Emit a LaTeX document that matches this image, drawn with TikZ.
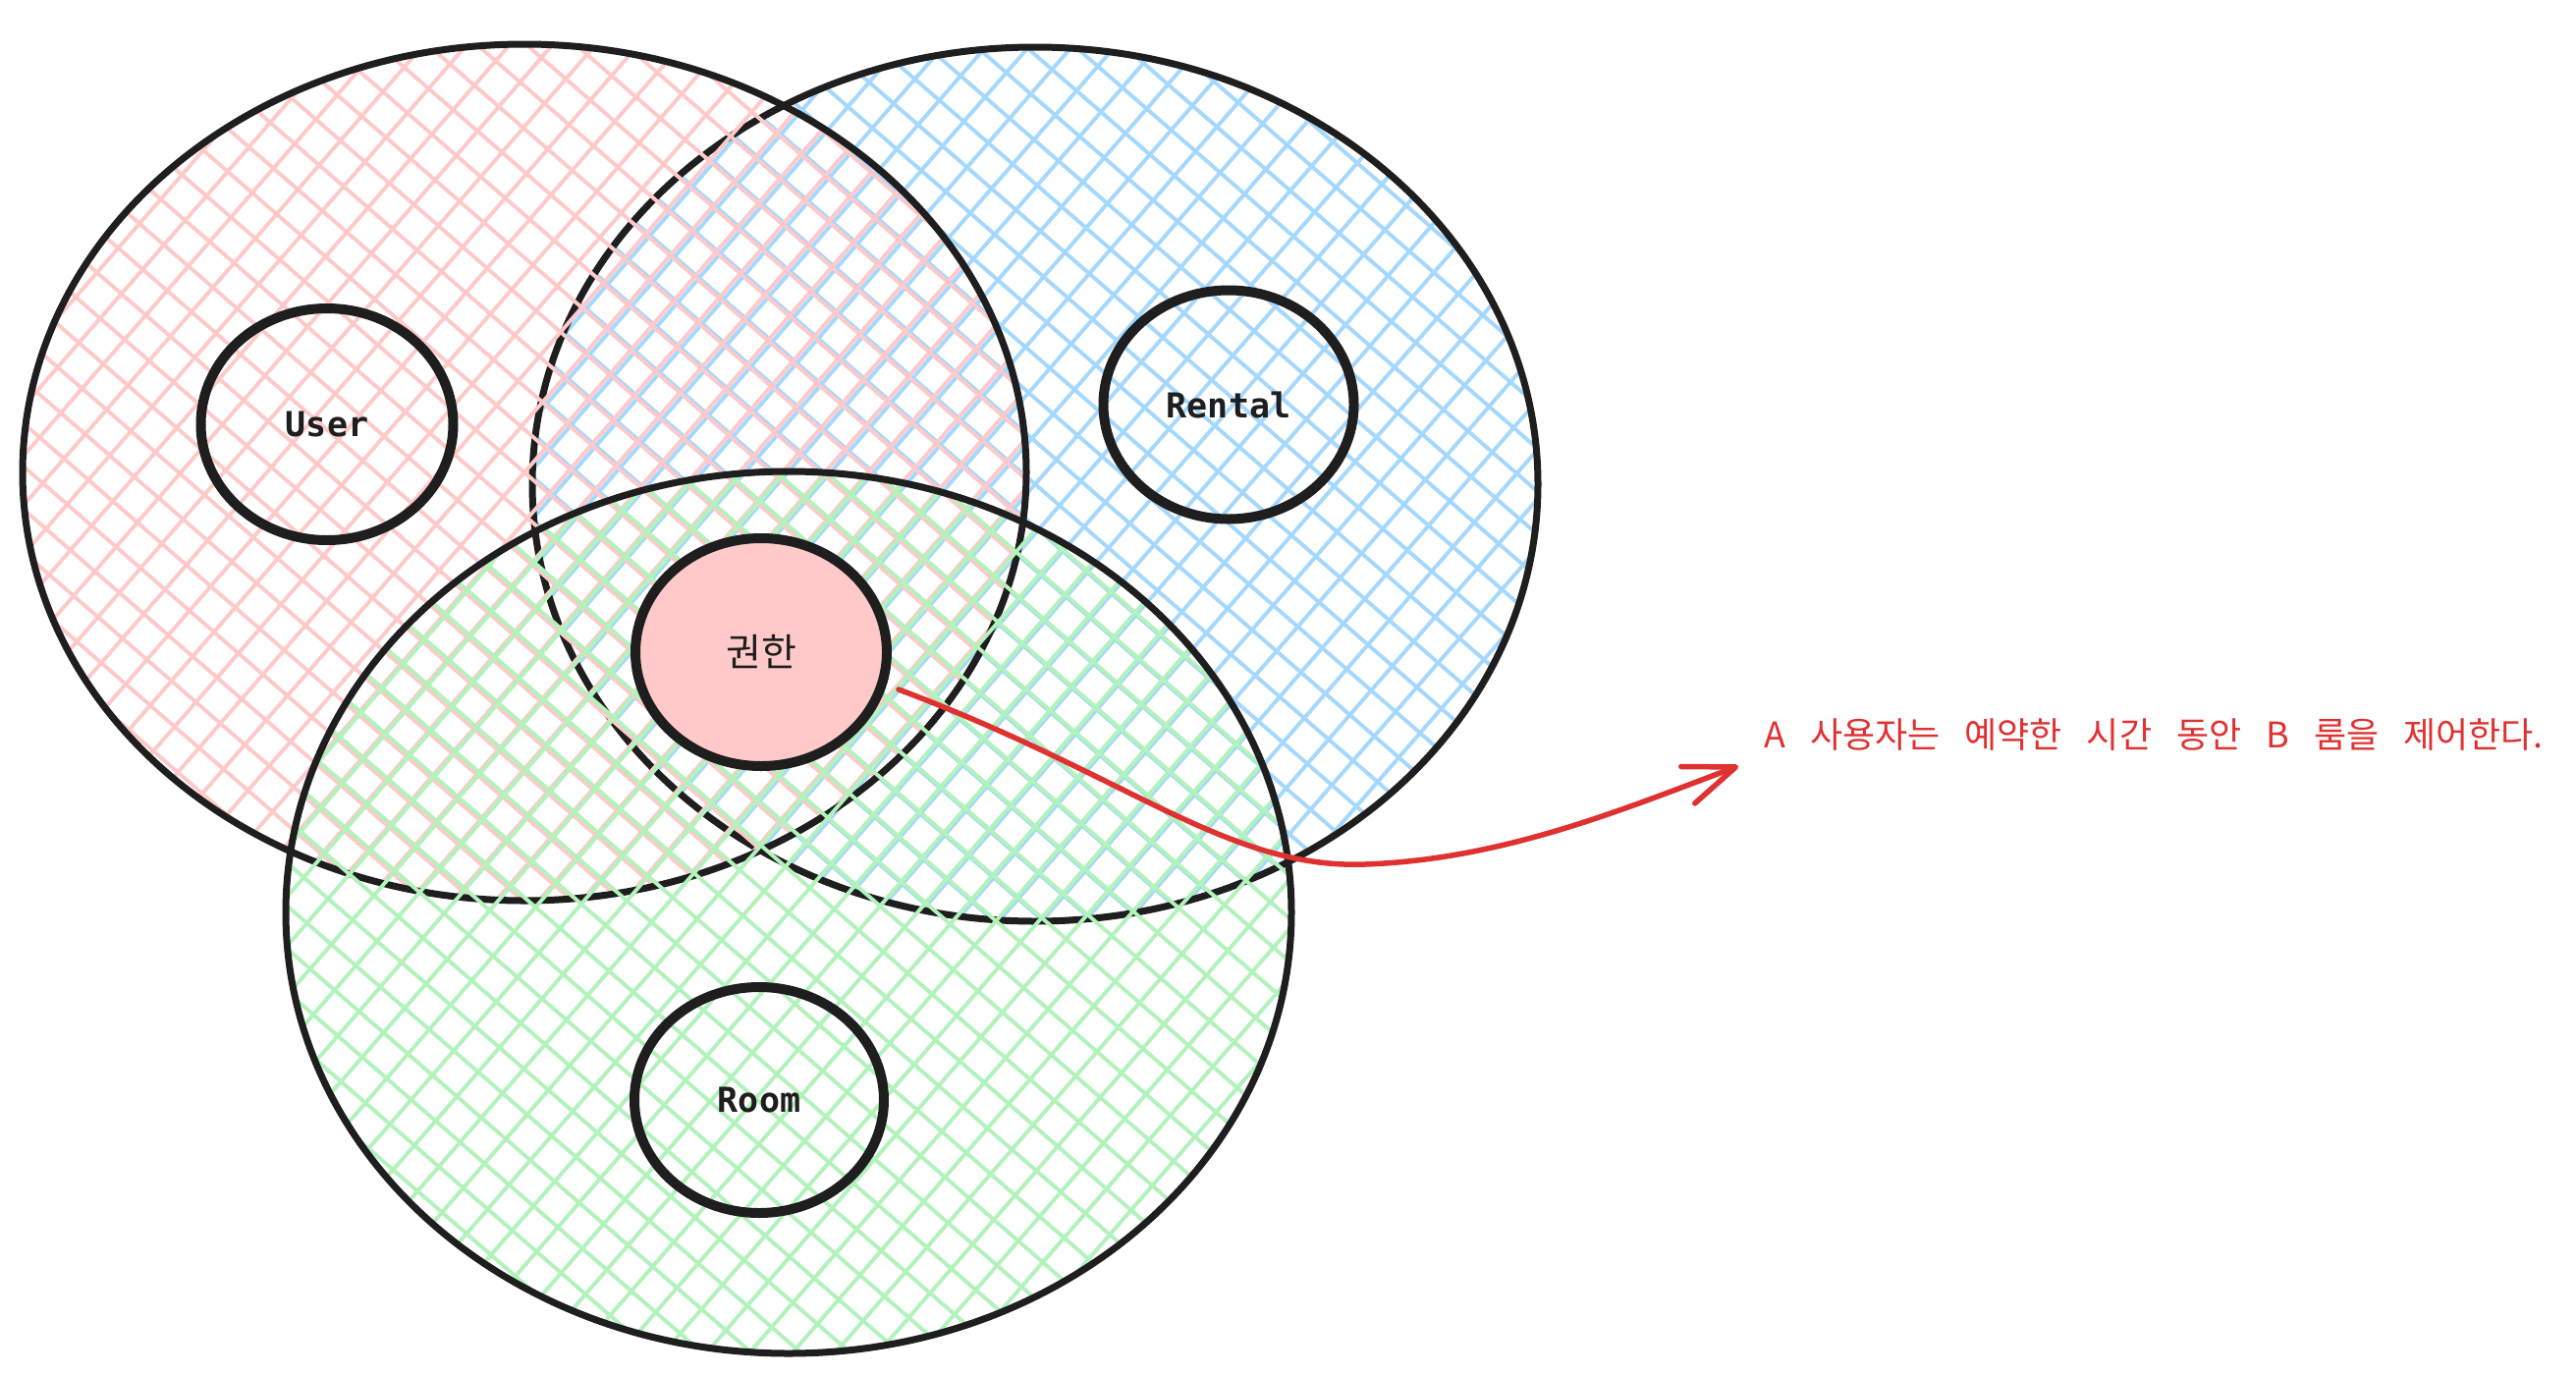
\documentclass[tikz,border=0pt]{standalone}
\usepackage{fontspec}
\usetikzlibrary{shapes.geometric,arrows.meta}
\newfontfamily\monof{DejaVu Sans Mono}
\newfontfamily\cjkf{Noto Sans CJK KR}
\definecolor{hpink}{HTML}{FFC9C9}
\definecolor{hblue}{HTML}{A5D8FF}
\definecolor{hgreen}{HTML}{B2F2BB}
\definecolor{ink}{HTML}{1E1E1E}
\definecolor{ared}{HTML}{E03131}
\newcommand\hatchell[5]{%
  \begin{scope}
    \clip (#2,#3) ellipse [x radius=#4, y radius=#5];
    \foreach \ang in {49,-41}{%
      \begin{scope}[shift={(#2,#3)}, rotate=\ang]
        \foreach \k in {-17,...,17}
          \draw[hatchline, draw=#1] (-620,\k*33) -- (620,\k*33);
      \end{scope}}
  \end{scope}
  \draw[bigline] (#2,#3) ellipse [x radius=#4, y radius=#5];}
\begin{document}
\begin{tikzpicture}[x=1pt,y=-1pt,
  hatchline/.style={line width=3.9pt},
  bigline/.style={draw=ink, line width=7pt},
  inner/.style={ellipse, draw=ink, line width=10pt, inner sep=0pt, font=\monof\bfseries\fontsize{35}{40}\selectfont, text=ink},
  kor/.style={font=\cjkf\fontsize{36}{42}\selectfont},
  arrowline/.style={draw=ared, line width=5.5pt, line cap=round, -{Straight Barb[length=52pt,width=40pt,round]}}]
\fill[white] (0,0) rectangle (2623,1400);
\useasboundingbox (0,0) rectangle (2623,1400);
% Rental set (blue)
\hatchell{hblue}{1054}{493}{512}{445}
% User set (red)
\hatchell{hpink}{534}{481}{511}{436}
% Room set (green)
\hatchell{hgreen}{803}{929}{512}{449}
% inner circles
\node[inner, minimum width=257pt, minimum height=236pt] (user) at (333,432) {User};
\node[inner, minimum width=255pt, minimum height=233pt] (rental) at (1251,412) {Rental};
\node[inner, minimum width=254pt, minimum height=230pt] (room) at (773,1120) {Room};
\node[inner, fill=hpink, minimum width=256pt, minimum height=232pt, font=\cjkf\fontsize{39}{44}\selectfont] (perm) at (775,664) {권한};
% arrow
\coordinate (astart) at (915,702);
\coordinate (amid) at (1390,880);
\coordinate (atip) at (1770,780);
\draw[arrowline] (astart) .. controls (1150,790) and (1250,885) .. (amid) .. controls (1530,875) and (1650,825) .. (atip);
\node[kor, text=ared, anchor=base west, inner sep=0pt] (note) at (1796,761) {\spaceskip=25pt A 사용자는 예약한 시간 동안 B 룸을 제어한다.};
\end{tikzpicture}
\end{document}
